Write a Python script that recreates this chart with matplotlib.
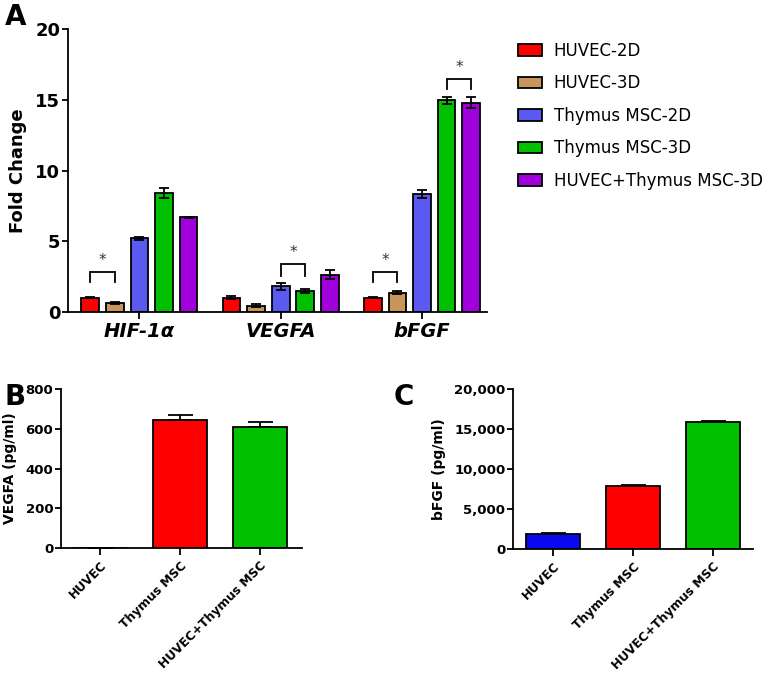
import matplotlib
matplotlib.use("Agg")
import matplotlib.pyplot as plt
import numpy as np

# ---------------------------------------------------------------------------
# Data
# ---------------------------------------------------------------------------
# Panel A: fold change per gene, one series per culture condition
genes = ["HIF-1\u03b1", "VEGFA", "bFGF"]
conditions = ["HUVEC-2D", "HUVEC-3D", "Thymus MSC-2D", "Thymus MSC-3D",
              "HUVEC+Thymus MSC-3D"]
fold_mean = {
    "HUVEC-2D":            [1.00, 1.00, 1.00],
    "HUVEC-3D":            [0.64, 0.44, 1.38],
    "Thymus MSC-2D":       [5.20, 1.81, 8.35],
    "Thymus MSC-3D":       [8.44, 1.50, 14.95],
    "HUVEC+Thymus MSC-3D": [6.70, 2.63, 14.80],
}
fold_err = {
    "HUVEC-2D":            [0.04, 0.10, 0.04],
    "HUVEC-3D":            [0.04, 0.10, 0.08],
    "Thymus MSC-2D":       [0.10, 0.22, 0.27],
    "Thymus MSC-3D":       [0.35, 0.15, 0.25],
    "HUVEC+Thymus MSC-3D": [0.05, 0.33, 0.40],
}
cond_colors = ["#FF0000", "#C8965A", "#5A5AF0", "#00C000", "#A000DC"]

# significance brackets: (gene index, left cond, right cond, top, leg bottom)
sig_pairs = [
    (0, 0, 1, 2.80, 2.10),
    (1, 2, 3, 3.39, 2.56),
    (2, 0, 1, 2.80, 2.10),
    (2, 3, 4, 16.46, 15.74),
]

# Panels B and C: secreted protein (ELISA)
groups = ["HUVEC", "Thymus MSC", "HUVEC+Thymus MSC"]
vegfa_mean = [0, 642, 608]
vegfa_err = [0, 27, 24]
bfgf_mean = [1900, 7900, 15900]
bfgf_err = [100, 80, 100]
group_colors_b = ["#0A0AF0", "#FF0000", "#00C000"]

# ---------------------------------------------------------------------------
plt.rcParams["font.family"] = "DejaVu Sans"
plt.rcParams["axes.linewidth"] = 1.3

fig = plt.figure(figsize=(7.65, 6.77), dpi=100)


def style_axes(ax, ytick_size):
    ax.spines["top"].set_visible(False)
    ax.spines["right"].set_visible(False)
    ax.tick_params(axis="both", direction="out", width=1.3)
    ax.tick_params(axis="y", labelsize=ytick_size)
    for lab in ax.get_yticklabels():
        lab.set_fontweight("bold")


# ---- Panel A --------------------------------------------------------------
axA = fig.add_axes([0.0889, 0.5391, 0.548, 0.418])
group_step = 5.74
x_groups = np.arange(len(genes)) * group_step
offsets = np.arange(len(conditions)) - (len(conditions) - 1) / 2
bar_w = 0.72

handles = []
for i, cond in enumerate(conditions):
    xs = x_groups + offsets[i]
    b = axA.bar(xs, fold_mean[cond], width=bar_w, color=cond_colors[i],
                edgecolor="black", linewidth=1.3, label=cond, zorder=2)
    axA.errorbar(xs, fold_mean[cond], yerr=fold_err[cond], fmt="none",
                 ecolor="black", elinewidth=1.3, capsize=3.5, capthick=1.3,
                 zorder=3)
    handles.append(b)

for g, i, j, top, leg in sig_pairs:
    x1 = x_groups[g] + offsets[i]
    x2 = x_groups[g] + offsets[j]
    axA.plot([x1, x1, x2, x2], [leg, top, top, leg], color="black", lw=1.3,
             solid_joinstyle="miter")
    axA.text((x1 + x2) / 2, top + 0.3, "*", ha="center", va="bottom",
             fontsize=11, color="#333333")

axA.set_xlim(-2.9, x_groups[-1] + 2.65)
axA.set_ylim(0, 20)
axA.set_yticks([0, 5, 10, 15, 20])
axA.set_xticks(x_groups)
axA.set_xticklabels(genes, fontsize=14, fontweight="bold", style="italic")
style_axes(axA, 13)
axA.tick_params(axis="y", length=4, pad=1.5)
axA.tick_params(axis="x", length=5, pad=2)
axA.set_ylabel("Fold Change", fontsize=13, fontweight="bold", labelpad=6)

fig.legend(handles=handles, labels=conditions, loc="upper left",
           bbox_to_anchor=(0.668, 0.948), frameon=False, fontsize=12,
           handlelength=1.45, handleheight=0.72, handletextpad=0.7,
           labelspacing=0.87, borderaxespad=0)

# ---- Panel B --------------------------------------------------------------
xb = np.arange(len(groups))
axB = fig.add_axes([0.0797, 0.1905, 0.315, 0.2349])
axB.bar(xb, vegfa_mean, width=0.675, color=group_colors_b, edgecolor="black",
        linewidth=1.3, zorder=2)
axB.errorbar(xb, vegfa_mean, yerr=[np.zeros(len(groups)), vegfa_err],
             fmt="none", ecolor="black", elinewidth=1.3, capsize=9,
             capthick=1.3, zorder=1)
axB.set_xlim(-0.4875, 2.525)
axB.set_ylim(0, 800)
axB.set_yticks([0, 200, 400, 600, 800])
axB.set_xticks(xb)
axB.set_xticklabels(groups, rotation=45, ha="right", rotation_mode="anchor",
                    fontsize=8.8, fontweight="bold")
style_axes(axB, 9.5)
axB.tick_params(axis="y", length=4, pad=1.5)
axB.tick_params(axis="x", length=5, pad=3)
axB.set_ylabel("VEGFA (pg/ml)", fontsize=10, fontweight="bold", labelpad=6)

# ---- Panel C --------------------------------------------------------------
axC = fig.add_axes([0.6706, 0.189, 0.3137, 0.2363])
axC.bar(xb, bfgf_mean, width=0.675, color=group_colors_b, edgecolor="black",
        linewidth=1.3, zorder=2)
axC.errorbar(xb, bfgf_mean, yerr=[np.zeros(len(groups)), bfgf_err],
             fmt="none", ecolor="black", elinewidth=1.3, capsize=9,
             capthick=1.3, zorder=1)
axC.set_xlim(-0.5, 2.5)
axC.set_ylim(0, 20000)
axC.set_yticks([0, 5000, 10000, 15000, 20000])
axC.set_yticklabels(["0", "5,000", "10,000", "15,000", "20,000"])
axC.set_xticks(xb)
axC.set_xticklabels(groups, rotation=45, ha="right", rotation_mode="anchor",
                    fontsize=8.8, fontweight="bold")
style_axes(axC, 9.5)
axC.tick_params(axis="y", length=4, pad=1.5)
axC.tick_params(axis="x", length=5, pad=3)
axC.set_ylabel("bFGF (pg/ml)", fontsize=10, fontweight="bold", labelpad=6)

# panel letters
fig.text(0.006, 0.975, "A", fontsize=20, fontweight="bold", va="center")
fig.text(0.006, 0.414, "B", fontsize=20, fontweight="bold", va="center")
fig.text(0.515, 0.414, "C", fontsize=20, fontweight="bold", va="center")

fig.savefig("out.png", dpi=100)
